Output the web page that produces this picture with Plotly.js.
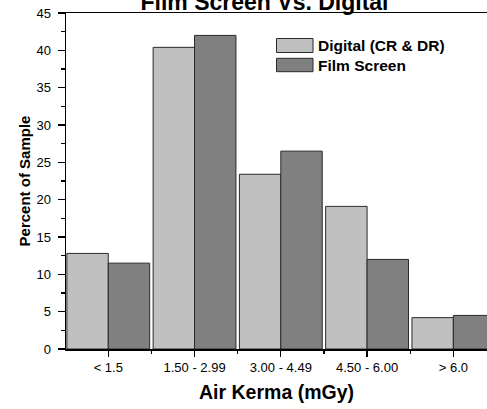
<!DOCTYPE html>
<html>
<head>
<meta charset="utf-8">
<script src="https://cdn.plot.ly/plotly-3.0.1.min.js"></script>
<style>html,body{margin:0;padding:0;background:#fff;}#chart{width:487px;height:409px;}</style>
</head>
<body>
<div id="chart"></div>
<script>
var categories = ["< 1.5", "1.50 - 2.99", "3.00 - 4.49", "4.50 - 6.00", "> 6.0"];
var digitalValues = [12.8, 40.4, 23.4, 19.1, 4.2];
var filmValues = [11.5, 42.0, 26.5, 12.0, 4.5];
var seriesNames = ["Digital (CR & DR)", "Film Screen"];
var positions = categories.map(function (c, i) { return i; });

var FONT = "Liberation Sans, Arial, Helvetica, sans-serif";
var digitalColor = "#c0c0c0";
var filmColor = "#808080";
var edge = "#2a2a2a";

var traces = [
  { type: "bar", name: seriesNames[0], x: positions, y: digitalValues,
    marker: { color: digitalColor, line: { color: edge, width: 1 } }, showlegend: false },
  { type: "bar", name: seriesNames[1], x: positions, y: filmValues,
    marker: { color: filmColor, line: { color: edge, width: 1 } }, showlegend: false }
];

function px2x(px) { return (px - 66) / 421; }
function py2y(py) { return (349 - py) / 336; }

var layout = {
  width: 487, height: 409,
  margin: { l: 66, r: 0, t: 13, b: 60, pad: 0 },
  paper_bgcolor: "#fff", plot_bgcolor: "#fff",
  font: { family: FONT, color: "#000", size: 13 },
  barmode: "group", bargap: 0.04, bargroupgap: 0,
  title: { text: "<b>Film Screen Vs. Digital</b>", font: { family: FONT, size: 23, color: "#000" },
           xref: "paper", x: px2x(264.5), xanchor: "center",
           yref: "container", y: 1 - 9.5 / 409, yanchor: "bottom" },
  xaxis: {
    range: [-0.49, 4.39], tickmode: "array", tickvals: positions, ticktext: categories,
    showgrid: false, zeroline: false, showline: true, linecolor: "#000", linewidth: 1.5, mirror: true,
    ticks: "outside", ticklen: 6, tickwidth: 1.2, tickcolor: "#000", ticklabelstandoff: 0,
    minor: { tick0: 0.5, dtick: 1, ticks: "outside", ticklen: 3, tickwidth: 1.2, tickcolor: "#000", showgrid: false },
    tickfont: { family: FONT, size: 13, color: "#000" },
    title: { text: "<b>Air Kerma (mGy)</b>", font: { family: FONT, size: 19.5, color: "#000" }, standoff: 11 },
    fixedrange: true
  },
  yaxis: {
    range: [0, 45], dtick: 5, tick0: 0,
    showgrid: false, zeroline: false, showline: true, linecolor: "#000", linewidth: 1.5,
    ticks: "outside", ticklen: 7, tickwidth: 1.2, tickcolor: "#000", ticklabelstandoff: 4,
    minor: { dtick: 2.5, ticks: "outside", ticklen: 4, tickwidth: 1.2, tickcolor: "#000", showgrid: false },
    tickfont: { family: FONT, size: 13, color: "#000" },
    title: { text: "<b>Percent of Sample</b>", font: { family: FONT, size: 15, color: "#000" }, standoff: 2 },
    fixedrange: true
  },
  shapes: [
    { type: "rect", xref: "paper", yref: "paper", x0: px2x(276.5), x1: px2x(313), y0: py2y(52.5), y1: py2y(38.5),
      fillcolor: digitalColor, line: { color: edge, width: 1 } },
    { type: "rect", xref: "paper", yref: "paper", x0: px2x(276.5), x1: px2x(313), y0: py2y(71.7), y1: py2y(58.3),
      fillcolor: filmColor, line: { color: edge, width: 1 } }
  ],
  annotations: [
    { xref: "paper", yref: "paper", x: px2x(316), y: py2y(45.5), xanchor: "left", yanchor: "middle",
      text: "<b>" + seriesNames[0].replace("&", "&amp;") + "</b>", showarrow: false, font: { family: FONT, size: 15.5, color: "#000" } },
    { xref: "paper", yref: "paper", x: px2x(316), y: py2y(65), xanchor: "left", yanchor: "middle",
      text: "<b>" + seriesNames[1] + "</b>", showarrow: false, font: { family: FONT, size: 15.5, color: "#000" } }
  ]
};

Plotly.newPlot("chart", traces, layout, { staticPlot: true, displayModeBar: false });
</script>
</body>
</html>
